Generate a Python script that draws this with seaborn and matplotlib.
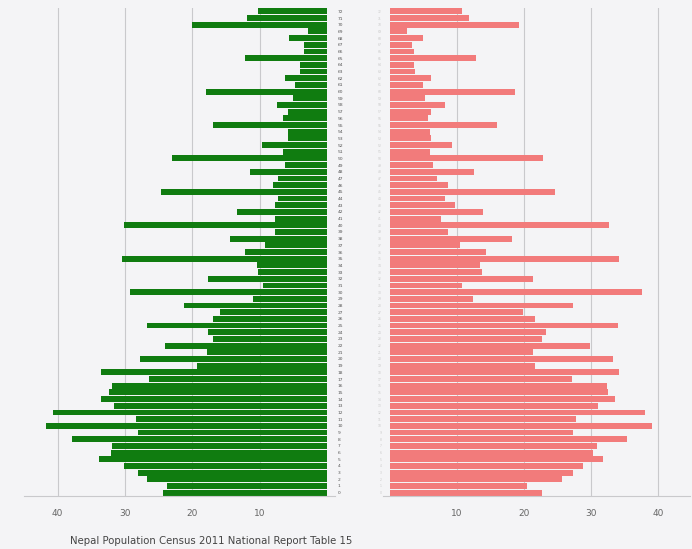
import pandas as pd
import matplotlib
matplotlib.use("Agg")
import matplotlib.pyplot as plt
import seaborn as sns

# single-year ages, 0 at the bottom
ages = list(range(73))

male = [24.3, 23.7, 26.7, 28.1, 30.2, 33.9, 32.1, 31.9, 37.8, 28.1,
        41.8, 28.4, 40.7, 31.7, 33.6, 32.4, 31.9, 26.5, 33.6, 19.3,
        27.7, 17.8, 24.0, 16.9, 17.6, 26.7, 16.9, 15.9, 21.3, 11.0,
        29.2, 9.5, 17.6, 10.2, 10.4, 30.4, 12.1, 9.2, 14.4, 7.7,
        30.2, 7.7, 13.3, 7.7, 7.3, 24.7, 8.0, 7.3, 11.4, 6.2,
        23.0, 6.5, 9.6, 5.8, 5.8, 16.9, 6.5, 5.8, 7.4, 5.0,
        18.0, 4.7, 6.2, 4.0, 4.0, 12.1, 3.4, 3.4, 5.6, 2.8,
        20.0, 11.8, 10.2]

female = [22.6, 20.4, 25.6, 27.3, 28.7, 31.7, 30.3, 30.8, 35.3, 27.3,
          39.0, 27.8, 38.0, 31.0, 33.5, 32.5, 32.3, 27.1, 34.2, 21.6,
          33.2, 21.3, 29.8, 22.6, 23.3, 34.0, 21.6, 19.8, 27.3, 12.4,
          37.6, 10.7, 21.3, 13.7, 13.4, 34.2, 14.4, 10.4, 18.2, 8.6,
          32.7, 7.7, 13.9, 9.7, 8.2, 24.6, 8.6, 7.0, 12.6, 6.4,
          22.8, 6.0, 9.2, 6.2, 6.0, 15.9, 5.7, 6.2, 8.2, 5.2,
          18.7, 4.9, 6.2, 3.7, 3.6, 12.8, 3.6, 3.3, 4.9, 2.5,
          19.3, 11.8, 10.8]

x_ticks = [10, 20, 30, 40]
source = "Nepal Population Census 2011 National Report Table 15"

df = pd.DataFrame({"age": [str(a) for a in ages], "male": male, "female": female})
order = [str(a) for a in reversed(ages)]

bg = "#f4f4f6"
fig = plt.figure(figsize=(6.92, 5.49), dpi=100, facecolor=bg)
axL = fig.add_axes([0.0347, 0.0965, 0.4494, 0.8889])
axR = fig.add_axes([0.5535, 0.0965, 0.4436, 0.8889])

sns.barplot(data=df, x="male", y="age", order=order, orient="h",
            color="#107c10", saturation=1, width=0.88, ax=axL)
sns.barplot(data=df, x="female", y="age", order=order, orient="h",
            color="#f27b7b", saturation=1, width=0.88, ax=axR)

axL.set_xlim(45, -1.2)
axR.set_xlim(-1, 44.7)

for ax in (axL, axR):
    ax.set_facecolor(bg)
    ax.set_xlabel("")
    ax.set_ylabel("")
    ax.set_xticks(x_ticks)
    ax.set_xticklabels([str(t) for t in x_ticks])
    ax.xaxis.grid(True, color="#c9c9cc", linewidth=0.8)
    ax.set_axisbelow(True)
    for side in ("top", "left", "right"):
        ax.spines[side].set_visible(False)
    ax.spines["bottom"].set_color("#c9c9cc")
    ax.tick_params(axis="x", length=0, labelsize=6.5, labelcolor="#666666", pad=9)
    ax.set_ylim(len(ages) - 0.5, -0.5)

axL.yaxis.tick_right()
axL.tick_params(axis="y", length=0, labelsize=3.2, labelcolor="#555555", pad=2)
axR.tick_params(axis="y", length=0, labelsize=2.2, labelcolor="#c8c8c8", pad=1)

fig.text(70 / 692, 1 - 541 / 549, source, fontsize=7.3, color="#444444",
         va="center", ha="left", family="Liberation Sans Narrow")

fig.savefig("out.png", dpi=100, facecolor=bg)
